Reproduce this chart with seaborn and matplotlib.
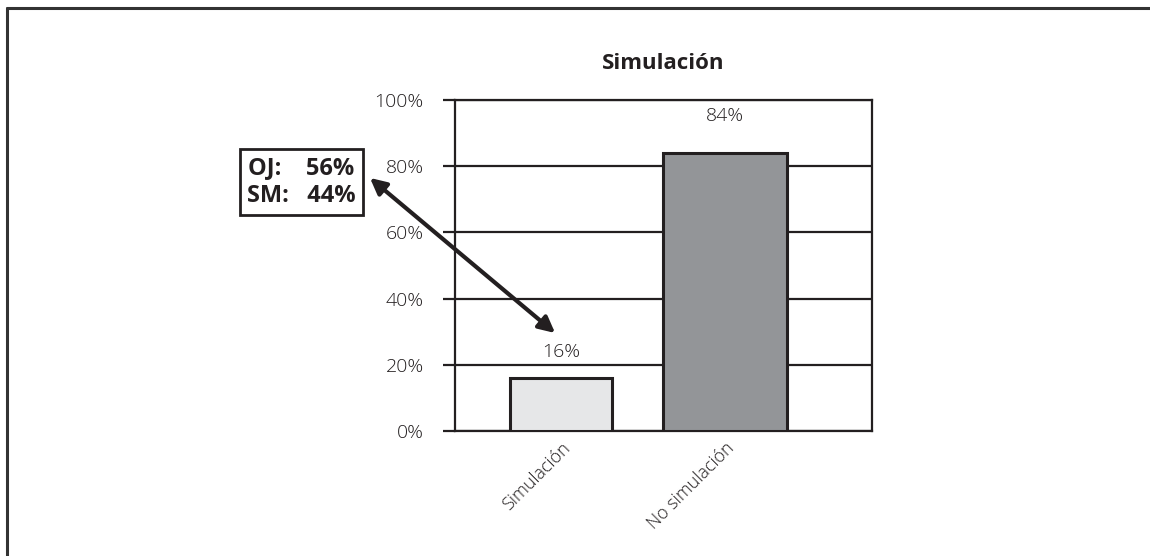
import matplotlib
matplotlib.use("Agg")
import matplotlib.pyplot as plt
from matplotlib.lines import Line2D
import seaborn as sns

# Survey shares by group
categories = ["Simulación", "No simulación"]
values = [16, 84]
bar_colors = ["#e6e7e8", "#939598"]
bar_widths = [0.62, 0.756]

# Breakdown shown in the call-out box
callout_labels = ["OJ:", "SM:"]
callout_values = [56, 44]

yticks = [0, 20, 40, 60, 80, 100]
ytick_labels = [f"{v}%" for v in yticks]

INK = "#231f20"
LIGHT = 300

sns.set_theme(style="white")
plt.rcParams["font.family"] = ["Open Sans", "DejaVu Sans"]

fig = plt.figure(figsize=(11.5, 5.56), dpi=100)
ax = fig.add_axes([0.3957, 0.2248, 0.3626, 0.5953])

sns.barplot(x=categories, y=values, hue=categories, palette=bar_colors,
            legend=False, edgecolor=INK, linewidth=2.2, width=0.7,
            saturation=1, ax=ax, zorder=3)

# individual bar widths, kept centred on their category
for patch, w in zip(ax.patches, bar_widths):
    cx = patch.get_x() + patch.get_width() / 2
    patch.set_width(w)
    patch.set_x(cx - w / 2)

ax.set_xlim(-0.646, 1.896)
ax.set_ylim(0, 100)
ax.set_yticks(yticks)
ax.set_yticklabels(ytick_labels, fontsize=14, fontweight=LIGHT, color=INK)
ax.yaxis.grid(True, color=INK, linewidth=1.6, zorder=0)
ax.set_axisbelow(True)
ax.tick_params(axis="y", length=8.6, width=1.6, color=INK, pad=14, left=True)
ax.tick_params(axis="x", length=0, pad=6)
ax.set_xticks(range(len(categories)))
ax.set_xticklabels(categories, rotation=45, ha="right",
                   rotation_mode="anchor", fontsize=13, fontweight=LIGHT,
                   color=INK)
for side in ["left", "right", "top", "bottom"]:
    ax.spines[side].set_visible(True)
    ax.spines[side].set_color(INK)
    ax.spines[side].set_linewidth(1.6)
ax.set_xlabel("")
ax.set_ylabel("")

ax.set_title("Simulación", fontsize=16, fontweight="bold", color=INK, pad=22)

# value labels above the bars
for i, v in enumerate(values):
    ax.annotate(f"{v}%", xy=(i, v), xytext=(0, 12 if v < 50 else 20),
                textcoords="offset points", ha="center", va="bottom",
                fontsize=14, fontweight=LIGHT, color=INK)

# call-out box
callout_text = "\n".join(f"{lab}    {val}%" if lab == "OJ:" else f"{lab}   {val}%"
                         for lab, val in zip(callout_labels, callout_values))
fig.text(0.262, 0.673, callout_text, ha="center", va="center",
         fontsize=17, fontweight="bold", color=INK, linespacing=1.2,
         bbox=dict(boxstyle="square,pad=0.3", fc="white", ec=INK, lw=2),
         zorder=6)

# double-headed arrow from the box to the first bar
ax.annotate("", xy=(-0.036, 29.6), xycoords="data",
            xytext=(0.3217, 0.680), textcoords="figure fraction",
            annotation_clip=False,
            arrowprops=dict(arrowstyle="<|-|>", color=INK, lw=3,
                            mutation_scale=24, shrinkA=0, shrinkB=0),
            zorder=6)

# frame lines along the top and left edges of the figure
fig.add_artist(Line2D([0.0065, 1.0], [0.986, 0.986], color="#333333",
                      linewidth=2.2, transform=fig.transFigure))
fig.add_artist(Line2D([0.0065, 0.0065], [0.0, 0.986], color="#333333",
                      linewidth=2.2, transform=fig.transFigure))

fig.savefig("out.png", dpi=100, facecolor="white")
